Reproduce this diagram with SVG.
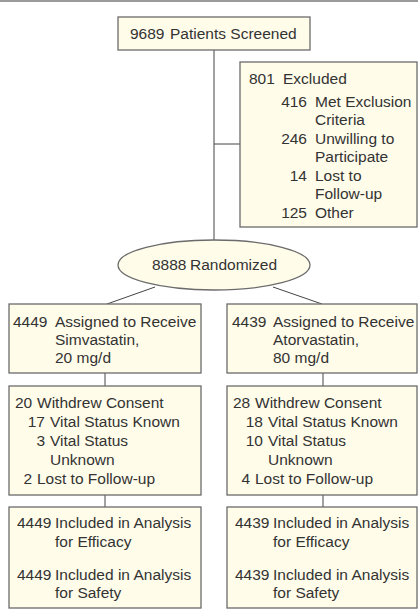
<svg xmlns="http://www.w3.org/2000/svg" width="418" height="616" viewBox="0 0 418 616">
<style>
.box{fill:#fffcea;stroke:#6b6b6b;stroke-width:1.3}
.ln{stroke:#444;stroke-width:1;fill:none}
text{font-family:"Liberation Sans",Arial,sans-serif;font-size:15.5px;fill:#333}
.e{text-anchor:end}
</style>
<rect x="0" y="0" width="418" height="616" fill="#fff"/>
<line x1="0" y1="1" x2="418" y2="1" stroke="#7a7a7a" stroke-width="1.6"/>
<g id="connectors">
<line class="ln" x1="214" y1="50" x2="214" y2="240"/>
<line class="ln" x1="214" y1="144" x2="240" y2="144"/>
<line class="ln" x1="155" y1="287" x2="107" y2="304"/>
<line class="ln" x1="273" y1="287" x2="322" y2="304"/>
<line class="ln" x1="105" y1="373" x2="105" y2="386"/>
<line class="ln" x1="105" y1="495" x2="105" y2="507"/>
<line class="ln" x1="323" y1="373" x2="323" y2="386"/>
<line class="ln" x1="323" y1="495" x2="323" y2="507"/>
</g>
<g id="screened">
<rect class="box" x="118" y="17" width="192" height="33"/>
<text x="130" y="39">9689</text><text x="170" y="39">Patients Screened</text>
</g>
<g id="excluded">
<rect class="box" x="240" y="62" width="177" height="165"/>
<text x="249" y="84">801</text><text x="283" y="84">Excluded</text>
<text class="e" x="307" y="107">416</text><text x="315" y="107">Met Exclusion</text>
<text x="315" y="125">Criteria</text>
<text class="e" x="307" y="143.5">246</text><text x="315" y="143.5">Unwilling to</text>
<text x="315" y="162">Participate</text>
<text class="e" x="307" y="180.5">14</text><text x="315" y="180.5">Lost to</text>
<text x="315" y="199">Follow-up</text>
<text class="e" x="307" y="217.5">125</text><text x="315" y="217.5">Other</text>
</g>
<g id="randomized">
<ellipse cx="214" cy="265" rx="96" ry="25" class="box"/>
<text x="152" y="270">8888</text><text x="190" y="270">Randomized</text>
</g>
<g id="simva">
<rect class="box" x="9" y="304" width="192" height="69"/>
<text x="13" y="327">4449</text><text x="55" y="327">Assigned to Receive</text>
<text x="55" y="345">Simvastatin,</text>
<text x="55" y="363">20 mg/d</text>
</g>
<g id="atorva">
<rect class="box" x="227" y="304" width="190" height="69"/>
<text x="232" y="327">4439</text><text x="273" y="327">Assigned to Receive</text>
<text x="273" y="345">Atorvastatin,</text>
<text x="273" y="363">80 mg/d</text>
</g>
<g id="simva-withdrew">
<rect class="box" x="9" y="386" width="192" height="109"/>
<text x="15" y="408">20</text><text x="37" y="408">Withdrew Consent</text>
<text class="e" x="45" y="427">17</text><text x="50" y="427">Vital Status Known</text>
<text class="e" x="45" y="446">3</text><text x="50" y="446">Vital Status</text>
<text x="50" y="465">Unknown</text>
<text class="e" x="32" y="484">2</text><text x="37" y="484">Lost to Follow-up</text>
</g>
<g id="atorva-withdrew">
<rect class="box" x="227" y="386" width="190" height="109"/>
<text x="233" y="408">28</text><text x="255" y="408">Withdrew Consent</text>
<text class="e" x="263" y="427">18</text><text x="268" y="427">Vital Status Known</text>
<text class="e" x="263" y="446">10</text><text x="268" y="446">Vital Status</text>
<text x="268" y="465">Unknown</text>
<text class="e" x="250" y="484">4</text><text x="255" y="484">Lost to Follow-up</text>
</g>
<g id="simva-analysis">
<rect class="box" x="9" y="507" width="192" height="101"/>
<text x="17" y="528">4449</text><text x="55" y="528">Included in Analysis</text>
<text x="55" y="547">for Efficacy</text>
<text x="17" y="580">4449</text><text x="55" y="580">Included in Analysis</text>
<text x="55" y="598">for Safety</text>
</g>
<g id="atorva-analysis">
<rect class="box" x="227" y="507" width="190" height="101"/>
<text x="235" y="528">4439</text><text x="273" y="528">Included in Analysis</text>
<text x="273" y="547">for Efficacy</text>
<text x="235" y="580">4439</text><text x="273" y="580">Included in Analysis</text>
<text x="273" y="598">for Safety</text>
</g>
</svg>
